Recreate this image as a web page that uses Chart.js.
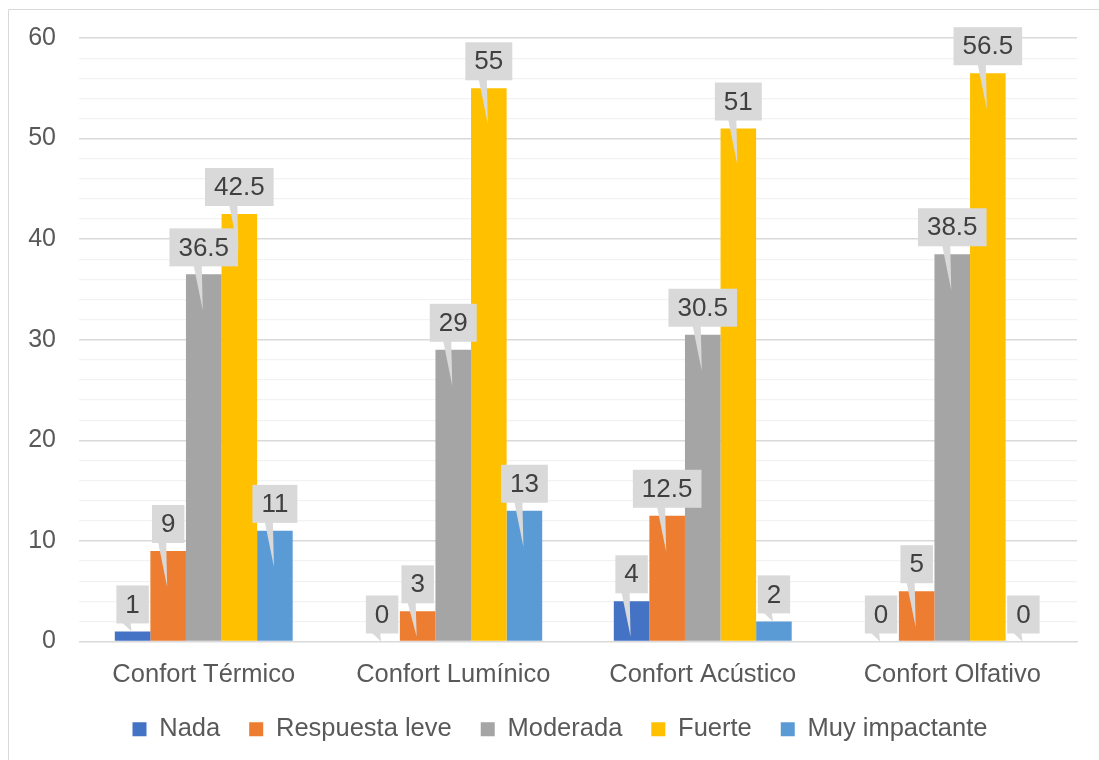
<!DOCTYPE html>
<html>
<head>
<meta charset="utf-8">
<script src="https://cdn.jsdelivr.net/npm/chart.js@4"></script>
<style>
  html, body { margin: 0; padding: 0; background: #fff; }
  #wrap { width: 1099px; height: 760px; }
</style>
</head>
<body>
<div id="wrap"><canvas id="grafico"></canvas></div>
<script>
// Datos de la encuesta de confort
const categorias = ['Confort Térmico', 'Confort Lumínico', 'Confort Acústico', 'Confort Olfativo'];
const nada = [1, 0, 4, 0];
const respuestaLeve = [9, 3, 12.5, 5];
const moderada = [36.5, 29, 30.5, 38.5];
const fuerte = [42.5, 55, 51, 56.5];
const muyImpactante = [11, 13, 2, 0];
const ejeY = [0, 10, 20, 30, 40, 50, 60];

const fuente = "'Liberation Sans', Arial, sans-serif";
const gris = '#595959';

// Marco exterior del gráfico
const marco = {
    id: 'marco',
    beforeDraw(chart) {
        const ctx = chart.ctx;
        ctx.save();
        ctx.fillStyle = '#fff';
        ctx.fillRect(0, 0, chart.width, chart.height);
        ctx.strokeStyle = '#d9d9d9';
        ctx.lineWidth = 1;
        ctx.beginPath();
        ctx.moveTo(8.5, chart.height);
        ctx.lineTo(8.5, 9.5);
        ctx.lineTo(chart.width, 9.5);
        ctx.stroke();
        ctx.restore();
    }
};

// La leyenda va centrada bajo el área de trazado, no bajo todo el lienzo
const leyendaCentrada = {
    id: 'leyendaCentrada',
    afterLayout(chart) {
        const l = chart.legend;
        const dx = (chart.chartArea.left + chart.chartArea.right) / 2 - (l.left + l.right) / 2 - 18;
        l.left += dx;
        l.right += dx;
    }
};

// Etiquetas tipo globo sobre cada barra
const globos = {
    id: 'globos',
    afterDatasetsDraw(chart) {
        const ctx = chart.ctx;
        ctx.save();
        ctx.font = '26px ' + fuente;
        ctx.textAlign = 'center';
        ctx.textBaseline = 'middle';
        chart.data.datasets.forEach((ds, i) => {
            const meta = chart.getDatasetMeta(i);
            meta.data.forEach((bar, j) => {
                const texto = String(ds.data[j]);
                const cx = bar.x;
                const alto = bar.base - bar.y;
                const w = ctx.measureText(texto).width + 18;
                const h = 38;
                const abajo = bar.y - 8;
                const arriba = abajo - h;
                const puntaY = alto > 25 ? Math.min(bar.y + 36, bar.base - 4) : bar.y;

                ctx.fillStyle = '#d9d9d9';
                ctx.fillRect(cx - w / 2, arriba, w, h);
                ctx.beginPath();
                ctx.moveTo(cx - 10, abajo - 0.5);
                ctx.lineTo(cx - 1, puntaY);
                ctx.lineTo(cx - 2, abajo - 0.5);
                ctx.closePath();
                ctx.fill();

                ctx.fillStyle = '#404040';
                ctx.fillText(texto, cx, arriba + h / 2 + 1);
            });
        });
        ctx.restore();
    }
};

const ctx = document.getElementById('grafico').getContext('2d');
new Chart(ctx, {
    type: 'bar',
    data: {
        labels: categorias,
        datasets: [
            { label: 'Nada', data: nada, backgroundColor: '#4472c4' },
            { label: 'Respuesta leve', data: respuestaLeve, backgroundColor: '#ed7d31' },
            { label: 'Moderada', data: moderada, backgroundColor: '#a5a5a5' },
            { label: 'Fuerte', data: fuerte, backgroundColor: '#ffc000' },
            { label: 'Muy impactante', data: muyImpactante, backgroundColor: '#5b9bd5' }
        ]
    },
    options: {
        responsive: true,
        maintainAspectRatio: false,
        animation: false,
        datasets: {
            bar: { categoryPercentage: 0.713, barPercentage: 1 }
        },
        layout: {
            padding: { top: 38, left: 10, right: 22, bottom: 8 }
        },
        scales: {
            x: {
                grid: { display: false, drawTicks: false },
                border: { color: '#d9d9d9' },
                ticks: {
                    color: gris,
                    font: { family: fuente, size: 25.5 },
                    padding: 18
                },
                afterFit(scale) { scale.height = 46; }
            },
            y: {
                min: ejeY[0],
                max: ejeY[ejeY.length - 1],
                border: { display: false },
                grid: {
                    drawTicks: false,
                    color: (c) => ejeY.includes(c.tick.value) ? '#d9d9d9' : '#f2f2f2',
                    lineWidth: (c) => ejeY.includes(c.tick.value) ? 1.5 : 1.2
                },
                ticks: {
                    stepSize: 2,
                    autoSkip: false,
                    color: gris,
                    font: { family: fuente, size: 25 },
                    padding: 23,
                    callback: (v) => ejeY.includes(v) ? v : ''
                },
                afterFit(scale) { scale.width = 69; }
            }
        },
        plugins: {
            legend: {
                position: 'bottom',
                labels: {
                    color: gris,
                    font: { family: fuente, size: 25.5 },
                    boxWidth: 14,
                    boxHeight: 14,
                    padding: 29
                }
            },
            tooltip: { enabled: false }
        }
    },
    plugins: [marco, leyendaCentrada, globos]
});
</script>
</body>
</html>
